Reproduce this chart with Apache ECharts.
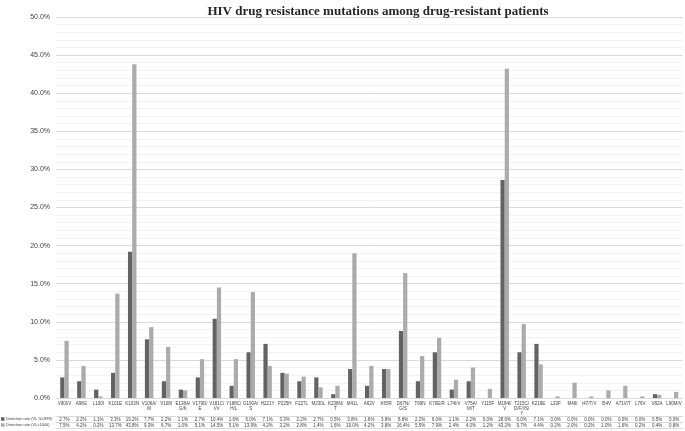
<!DOCTYPE html>
<html><head><meta charset="utf-8">
<script src="https://cdn.jsdelivr.net/npm/echarts@6/dist/echarts.min.js"></script>
<style>html,body{margin:0;padding:0;background:#fff}#c{width:685px;height:431px}</style>
</head><body><div id="c"></div>
<script>
const categories = ["V90I/V","A98G","L100I","K101E","K103N","V106A/M","V108I","E138A/G/K","V179D/E","V181C/I/V","Y188C/H/L","G190A/S","H221Y","P225H","F227L","M230L","K238N/T","M41L","A62V","K65R","D67N/G/S","T69N","K70E/R","L74I/V","V75A/M/T","Y115F","M184I/V","T215C/D/F/I/S/Y","K219E","L33F","M46I","I47/T/V","I54V","A71V/T","L76V","V82A","L90M/V"];
const seriesNames = ["Detection rate (VL 50-999)","Detection rate (VL≥1000)"];
const lowVL  = [2.7,2.2,1.1,3.3,19.2,7.7,2.2,1.1,2.7,10.4,1.6,6.0,7.1,3.3,2.2,2.7,0.5,3.8,1.6,3.8,8.8,2.2,6.0,1.1,2.2,0.0,28.6,6.0,7.1,0.0,0.0,0.0,0.0,0.0,0.0,0.5,0.0];
const highVL = [7.5,4.2,0.2,13.7,43.8,9.3,6.7,1.0,5.1,14.5,5.1,13.9,4.2,3.2,2.8,1.4,1.6,19.0,4.2,3.8,16.4,5.5,7.9,2.4,4.0,1.2,43.2,9.7,4.4,0.2,2.0,0.2,1.0,1.6,0.2,0.4,0.8];
const yTicks = {min:0, max:50, interval:5};

const fmt = v => v.toFixed(1) + '%';
const chart = echarts.init(document.getElementById('c'), null, {renderer:'canvas'});
const tableLine = '#d9d9d9';
const smallFont = {fontFamily:'Liberation Sans', fontSize:4.5, color:'#404040'};
const legendBase = {left:1, itemGap:1, itemWidth:3.5, itemHeight:3.5, icon:'rect', padding:0,
  textStyle:Object.assign({}, smallFont, {fontSize:3.9, padding:[0,0,0,-3.5]})};

chart.setOption({
  animation:false,
  title:{text:'HIV drug resistance mutations among drug-resistant patients', left:373, textAlign:'center', top:0,
    textStyle:{fontFamily:'Liberation Serif', fontWeight:'bold', fontSize:13, color:'#262626'}},
  legend:[
    Object.assign({top:417, data:[seriesNames[0]]}, legendBase),
    Object.assign({top:423, data:[seriesNames[1]]}, legendBase)
  ],
  grid:{left:56, right:0, top:17, bottom:33, containLabel:false},
  xAxis:[
    {type:'category', data:categories, position:'bottom',
      axisLine:{lineStyle:{color:tableLine}}, axisTick:{length:30, lineStyle:{color:tableLine}},
      axisLabel:Object.assign({interval:0, margin:3, width:16, overflow:'breakAll', lineHeight:5, hideOverlap:false}, smallFont)},
    {type:'category', data:lowVL.map(fmt), position:'bottom', offset:18,
      axisLine:{lineStyle:{color:tableLine}}, axisTick:{show:false},
      axisLabel:Object.assign({interval:0, margin:1.2}, smallFont)},
    {type:'category', data:highVL.map(fmt), position:'bottom', offset:24,
      axisLine:{lineStyle:{color:tableLine}}, axisTick:{show:false},
      axisLabel:Object.assign({interval:0, margin:1.2}, smallFont)},
    {type:'category', data:categories, position:'bottom', offset:30,
      axisLine:{lineStyle:{color:tableLine}}, axisTick:{show:false}, axisLabel:{show:false}}
  ],
  yAxis:{type:'value', min:yTicks.min, max:yTicks.max, interval:yTicks.interval,
    axisLabel:{formatter:v=>v.toFixed(1)+'%', fontFamily:'Liberation Sans', fontSize:7, color:'#404040', margin:6},
    axisLine:{show:false}, axisTick:{show:false},
    splitLine:{lineStyle:{color:'#d9d9d9', width:1}},
    minorTick:{show:false, splitNumber:5},
    minorSplitLine:{show:true, lineStyle:{color:'#f2f2f2', width:1}}},
  series:[
    {name:seriesNames[0], type:'bar', data:lowVL, barWidth:'25%', barGap:'0%', itemStyle:{color:'#636363'}},
    {name:seriesNames[1], type:'bar', data:highVL, barWidth:'25%', barGap:'0%', itemStyle:{color:'#ababab'}}
  ]
});
</script></body></html>
